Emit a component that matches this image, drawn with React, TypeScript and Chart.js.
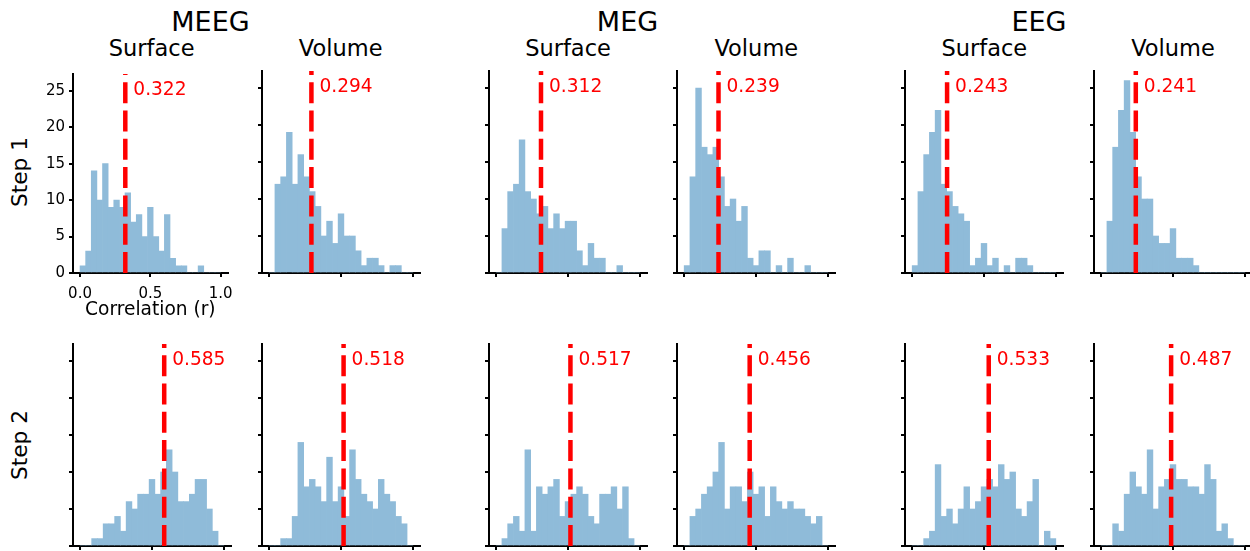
import React, { useEffect, useRef } from 'react';
import { Chart, registerables } from 'chart.js';

Chart.register(...registerables);
Chart.defaults.font.family = '"DejaVu Sans", sans-serif';

// ---------------- data ----------------
const binCenters = [0.02, 0.06, 0.1, 0.14, 0.18, 0.22, 0.26, 0.3, 0.34, 0.38, 0.42, 0.46, 0.5, 0.54, 0.58, 0.62, 0.66, 0.7, 0.74, 0.78, 0.82, 0.86, 0.9, 0.94, 0.98];

const meegSurfaceStep1 = [1, 3, 14, 10, 15, 9, 10, 9, 11, 7, 8, 5, 9, 5, 3, 8, 2, 1, 1, 0, 0, 1, 0, 0, 0];
const meegVolumeStep1 = [0, 12, 13, 19, 12, 16, 13, 11, 9, 5, 7, 4, 8, 5, 5, 3, 1, 2, 2, 1, 0, 1, 1, 0, 0];
const megSurfaceStep1 = [0, 6, 11, 12, 18, 11, 10, 8, 9, 6, 8, 6, 7, 7, 3, 1, 4, 2, 2, 0, 0, 1, 0, 0, 0];
const megVolumeStep1 = [1, 13, 25, 17, 16, 17, 13, 9, 10, 7, 9, 2, 1, 3, 3, 0, 1, 0, 2, 0, 0, 1, 0, 0, 0];
const eegSurfaceStep1 = [1, 11, 16, 19, 22, 12, 11, 9, 8, 7, 1, 2, 4, 1, 2, 0, 1, 0, 2, 2, 1, 0, 0, 0, 0];
const eegVolumeStep1 = [0, 7, 17, 22, 26, 19, 13, 10, 10, 5, 4, 4, 6, 2, 2, 2, 1, 0, 0, 0, 0, 0, 0, 0, 0];

const meegSurfaceStep2 = [0, 0, 1, 1, 3, 3, 4, 2, 6, 5, 7, 7, 9, 7, 10, 13, 10, 6, 6, 7, 9, 9, 5, 2, 0];
const meegVolumeStep2 = [0, 0, 1, 1, 4, 14, 8, 9, 8, 6, 12, 6, 8, 4, 13, 9, 7, 6, 5, 9, 7, 6, 4, 3, 0];
const megSurfaceStep2 = [0, 1, 3, 4, 2, 13, 2, 8, 7, 8, 9, 4, 6, 7, 8, 7, 4, 3, 7, 7, 8, 5, 8, 1, 0];
const megVolumeStep2 = [0, 4, 5, 7, 8, 10, 14, 5, 8, 8, 6, 10, 7, 8, 4, 8, 6, 5, 6, 5, 5, 4, 3, 4, 0];
const eegSurfaceStep2 = [0, 0, 1, 2, 11, 4, 5, 3, 5, 8, 5, 6, 8, 9, 8, 11, 9, 10, 5, 4, 6, 9, 0, 2, 1];
const eegVolumeStep2 = [0, 0, 3, 2, 7, 10, 8, 7, 13, 5, 8, 9, 11, 9, 9, 8, 8, 7, 11, 9, 2, 3, 1, 0, 0];

const mediansStep1 = [0.322, 0.294, 0.312, 0.239, 0.243, 0.241];
const mediansStep2 = [0.585, 0.518, 0.517, 0.456, 0.533, 0.487];

const modalities = ['MEEG', 'MEG', 'EEG'];
const spaces = ['Surface', 'Volume'];
const steps = ['Step 1', 'Step 2'];

const xTickValues = [0, 0.5, 1.0];
const yTickValues = [0, 5, 10, 15, 20, 25];
const X_MIN = -0.05;
const X_MAX = 1.05;
const Y_MAX = 27.3;
const xAxisTitle = 'Correlation (r)';

const countsStep1 = [meegSurfaceStep1, meegVolumeStep1, megSurfaceStep1, megVolumeStep1, eegSurfaceStep1, eegVolumeStep1];
const countsStep2 = [meegSurfaceStep2, meegVolumeStep2, megSurfaceStep2, megVolumeStep2, eegSurfaceStep2, eegVolumeStep2];

// ---------------- layout / style ----------------
const COL_LEFT = [72.7, 261.7, 489, 677.3, 905.3, 1094];
const ROW_TOP = [70.5, 343.5];
const AX_W = 158;
const AX_H = 202;
const PAD_L = 60;
const PAD_T = 10;
const PAD_R = 10;
const PAD_B = 50;

const HIST_COLOR = '#8fbbd9';
const MEDIAN_COLOR = '#ff0000';
const FONT = '"DejaVu Sans", sans-serif';

const medianLabelPlugin = {
  id: 'medianLabel',
  afterDatasetsDraw(chart: any, _args: any, opts: any) {
    const { ctx, chartArea, scales } = chart;
    const x = scales.x.getPixelForValue(opts.value);
    ctx.save();
    ctx.fillStyle = MEDIAN_COLOR;
    ctx.font = `18.6px ${FONT}`;
    ctx.textAlign = 'left';
    ctx.textBaseline = 'alphabetic';
    ctx.fillText(opts.value.toFixed(3), x + 8, chartArea.top + 20.8);
    ctx.restore();
  },
};

type PanelProps = { counts: number[]; median: number; showLabels: boolean; left: number; top: number };

function Panel({ counts, median, showLabels, left, top }: PanelProps) {
  const ref = useRef<HTMLCanvasElement | null>(null);
  const W = PAD_L + AX_W + PAD_R;
  const H = PAD_T + AX_H + PAD_B;

  useEffect(() => {
    if (!ref.current) return;
    const gridOpts = {
      drawOnChartArea: false,
      drawTicks: true,
      tickLength: 4,
      color: '#000',
      tickColor: '#000',
      lineWidth: 2,
      tickWidth: 2,
      offset: false,
    };
    const chart = new Chart(ref.current, {
      type: 'bar',
      data: {
        datasets: [
          {
            type: 'line',
            data: [
              { x: median, y: 0 },
              { x: median, y: Y_MAX },
            ],
            borderColor: MEDIAN_COLOR,
            borderWidth: 4.5,
            borderDash: [21, 7.3],
            borderCapStyle: 'butt',
            pointRadius: 0,
            fill: false,
            order: 0,
          } as any,
          {
            type: 'bar',
            data: binCenters.map((x, i) => ({ x, y: counts[i] })),
            backgroundColor: HIST_COLOR,
            borderWidth: 0,
            barPercentage: 1,
            categoryPercentage: 1,
            order: 1,
          } as any,
        ],
      },
      options: {
        responsive: false,
        animation: false,
        devicePixelRatio: 1,
        events: [],
        layout: { padding: { left: 0, top: PAD_T, right: PAD_R, bottom: 0 } },
        plugins: {
          legend: { display: false },
          tooltip: { enabled: false },
          medianLabel: { value: median },
        } as any,
        scales: {
          x: {
            type: 'linear',
            min: X_MIN,
            max: X_MAX,
            offset: false,
            z: 1,
            afterBuildTicks: (axis: any) => {
              axis.ticks = xTickValues.map((v) => ({ value: v }));
            },
            afterFit: (s: any) => {
              s.height = PAD_B;
            },
            grid: gridOpts,
            border: { display: true, color: '#000', width: 2 },
            ticks: {
              display: showLabels,
              color: '#000',
              font: { family: FONT, size: 15 },
              padding: 8,
              maxRotation: 0,
              autoSkip: false,
              callback: (v: any) => Number(v).toFixed(1),
            },
            title: {
              display: showLabels,
              text: xAxisTitle,
              color: '#000',
              font: { family: FONT, size: 18.6 },
              padding: { top: 0, bottom: 2 },
            },
          },
          y: {
            type: 'linear',
            min: 0,
            max: Y_MAX,
            z: 1,
            afterBuildTicks: (axis: any) => {
              axis.ticks = yTickValues.map((v) => ({ value: v }));
            },
            afterFit: (s: any) => {
              s.width = PAD_L;
            },
            grid: gridOpts,
            border: { display: true, color: '#000', width: 2 },
            ticks: {
              display: showLabels,
              color: '#000',
              font: { family: FONT, size: 15 },
              padding: 4,
              autoSkip: false,
              callback: (v: any) => String(v),
            },
          },
        } as any,
      },
      plugins: [medianLabelPlugin as any],
    });
    return () => chart.destroy();
  }, [counts, median, showLabels]);

  return (
    <canvas
      ref={ref}
      width={W}
      height={H}
      style={{ position: 'absolute', left: left - PAD_L, top: top - PAD_T, width: W, height: H }}
    />
  );
}

function Label({ text, x, y, size, rotate }: { text: string; x: number; y: number; size: number; rotate?: boolean }) {
  return (
    <div
      style={{
        position: 'absolute',
        left: x,
        top: y,
        transform: `translate(-50%, -50%)${rotate ? ' rotate(-90deg)' : ''}`,
        fontFamily: FONT,
        fontSize: size,
        lineHeight: 1,
        whiteSpace: 'nowrap',
        color: '#000',
      }}
    >
      {text}
    </div>
  );
}

export default function App() {
  const groupTitleX = [210.5, 627.5, 1039];
  return (
    <div style={{ position: 'absolute', left: 0, top: 0, width: 1250, height: 551, background: '#fff', overflow: 'hidden' }}>
      {modalities.map((m, i) => (
        <Label key={m} text={m} x={groupTitleX[i]} y={21} size={27} />
      ))}
      {COL_LEFT.map((l, c) => (
        <Label key={'t' + c} text={spaces[c % 2]} x={l + AX_W / 2} y={47.5} size={22.5} />
      ))}
      {steps.map((s, r) => (
        <Label key={s} text={s} x={20} y={ROW_TOP[r] + AX_H / 2} size={21.7} rotate />
      ))}
      {COL_LEFT.map((l, c) => (
        <Panel key={'a' + c} counts={countsStep1[c]} median={mediansStep1[c]} showLabels={c === 0} left={l} top={ROW_TOP[0]} />
      ))}
      {COL_LEFT.map((l, c) => (
        <Panel key={'b' + c} counts={countsStep2[c]} median={mediansStep2[c]} showLabels={false} left={l} top={ROW_TOP[1]} />
      ))}
    </div>
  );
}
